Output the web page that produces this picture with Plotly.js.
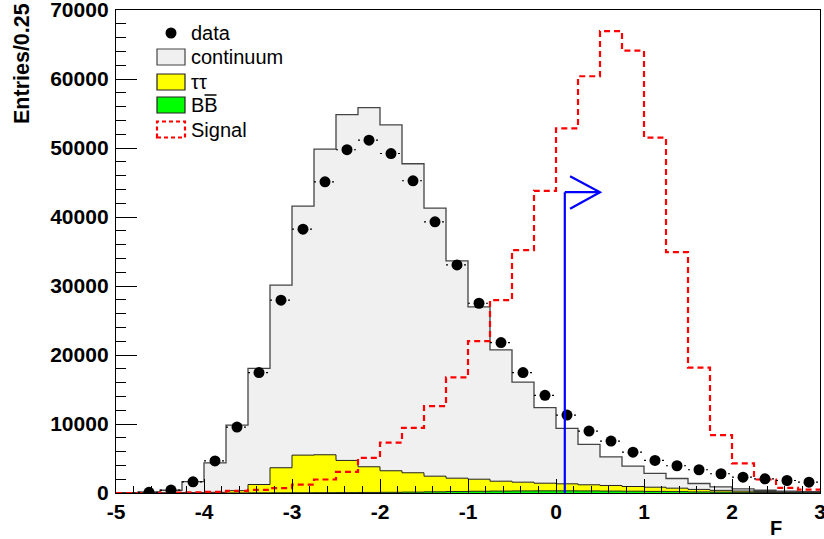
<!DOCTYPE html>
<html>
<head>
<meta charset="utf-8">
<script src="https://cdn.plot.ly/plotly-3.0.1.min.js"></script>
<style>
html,body{margin:0;padding:0;background:#fff;}
#chart{width:824px;height:539px;}
</style>
</head>
<body>
<div id="chart"></div>
<script>
// ---- data (bins of width 0.25 from -5 to 3) ----
const binLow = [-5,-4.75,-4.5,-4.25,-4,-3.75,-3.5,-3.25,-3,-2.75,-2.5,-2.25,-2,-1.75,-1.5,-1.25,
                -1,-0.75,-0.5,-0.25,0,0.25,0.5,0.75,1,1.25,1.5,1.75,2,2.25,2.5,2.75];
const binWidth = 0.25;

const continuum = [0,150,380,1600,4280,9490,16840,26460,36090,44290,50110,52050,50120,44790,38850,31490,
                   24970,19020,14510,10950,8030,5850,4160,2950,1990,1400,860,520,330,200,120,100];
const tautau    = [0,0,20,50,100,330,1210,3630,5450,5490,4660,3720,3120,2800,2270,1940,
                   1750,1430,1270,1110,1020,890,810,680,610,500,360,250,180,120,80,60];
const bbbar     = [0,0,0,0,0,10,20,30,40,50,60,80,100,130,170,210,
                   250,280,300,310,310,300,280,260,230,200,160,130,100,80,60,40];
const signal    = [0,0,50,80,150,300,450,700,1200,1960,3050,5100,7300,9450,12600,16750,
                   22000,27950,35200,43800,52850,60400,66950,64100,51500,34900,18170,8400,4300,1960,750,500];
const data      = [null,100,420,1620,4650,9550,17450,27940,38240,45100,49750,51140,49200,45250,39300,33060,
                   27500,21800,17450,14150,11290,8970,7520,5920,4720,3950,3370,2790,2300,2060,1810,1570];

const cutValue = 0.1;      // F cut position
const arrowLevel = 43600;  // height of arrow
const arrowTip = 0.5;

const yTicks = [0,10000,20000,30000,40000,50000,60000,70000];
const xTicks = [-5,-4,-3,-2,-1,0,1,2,3];

// ---- helpers ----
const edges = binLow.concat([binLow[binLow.length-1] + binWidth]);
const centers = binLow.map(v => v + binWidth/2);
function stepY(vals){ return vals.concat([vals[vals.length-1]]); }
const bbTop = bbbar.slice();
const ttTop = tautau.map((v,i) => v + bbbar[i]);
const totTop = continuum.map((v,i) => v + tautau[i] + bbbar[i]);

// x "error" segments for data (dotted)
const exX = [], exY = [];
binLow.forEach((lo,i) => { if (data[i] !== null) { exX.push(lo, lo+binWidth, null); exY.push(data[i], data[i], null); } });

const traces = [
  {x: edges, y: stepY(totTop), type:'scatter', mode:'lines', line:{shape:'hv', color:'#444', width:1.3},
   fill:'tozeroy', fillcolor:'#f0f0f0', hoverinfo:'skip', showlegend:false},
  {x: edges, y: stepY(ttTop), type:'scatter', mode:'lines', line:{shape:'hv', color:'#222', width:1},
   fill:'tozeroy', fillcolor:'#ffff00', hoverinfo:'skip', showlegend:false},
  {x: edges, y: stepY(bbTop), type:'scatter', mode:'lines', line:{shape:'hv', color:'#222', width:1},
   fill:'tozeroy', fillcolor:'#00ff00', hoverinfo:'skip', showlegend:false},
  {x: edges, y: stepY(signal), type:'scatter', mode:'lines', line:{shape:'hv', color:'#ff0000', width:2.2, dash:'6px,4px'},
   hoverinfo:'skip', showlegend:false},
  {x: exX, y: exY, type:'scatter', mode:'lines', line:{color:'#000', width:1.2, dash:'2px,4px'},
   connectgaps:false, hoverinfo:'skip', showlegend:false},
  {x: centers, y: data, type:'scatter', mode:'markers', marker:{color:'#000', size:11, symbol:'circle'},
   showlegend:false}
];

const W = 824, H = 539, M = {l:116, r:4, t:10, b:46};
const plotW = W - M.l - M.r, plotH = H - M.t - M.b;
const PX = px => (px - M.l)/plotW;
const PY = py => (H - M.b - py)/plotH;

const legFont = {family:'Liberation Sans, Arial, sans-serif', size:20, color:'#000'};
const legend = [
  {label:'data', y:33},
  {label:'continuum', y:57, fill:'#f0f0f0', line:'#444'},
  {label:'\u03C4\u03C4', y:82, fill:'#ffff00', line:'#222'},
  {label:'BB', y:105, fill:'#00ff00', line:'#222', bar:true},
  {label:'Signal', y:129.5, fill:'rgba(0,0,0,0)', line:'#ff0000', dash:true}
];

const shapes = [];
const annotations = [];
legend.forEach(it => {
  if (it.fill) {
    shapes.push({type:'rect', xref:'paper', yref:'paper', x0:PX(157), x1:PX(185), y0:PY(it.y+8), y1:PY(it.y-8),
      fillcolor:it.fill, line:{color:it.line, width: it.dash?2.2:1.2, dash: it.dash?'4px,3px':'solid'}, layer:'above'});
  } else {
    shapes.push({type:'circle', xref:'paper', yref:'paper', x0:PX(165.5), x1:PX(176.5), y0:PY(it.y+5.5), y1:PY(it.y-5.5),
      fillcolor:'#000', line:{color:'#000', width:0}, layer:'above'});
  }
  if (it.bar) {
    // overline of the anti-B
    shapes.push({type:'line', xref:'paper', yref:'paper', x0:PX(204.5), x1:PX(216.5), y0:PY(it.y-10), y1:PY(it.y-10),
      line:{color:'#000', width:1.5}, layer:'above'});
  }
  annotations.push({xref:'paper', yref:'paper', x:PX(188.5), y:PY(it.y), xanchor:'left', yanchor:'middle',
    text:it.label, showarrow:false, font:legFont});
});

// cut arrow (blue)
shapes.push({type:'line', xref:'x', yref:'y', x0:cutValue, x1:cutValue, y0:0, y1:arrowLevel, line:{color:'#0000ff', width:2.2}, layer:'above'});
shapes.push({type:'line', xref:'x', yref:'y', x0:cutValue, x1:arrowTip, y0:arrowLevel, y1:arrowLevel, line:{color:'#0000ff', width:2.2}, layer:'above'});
shapes.push({type:'path', xref:'x', yref:'y',
  path:`M ${arrowTip-0.34},${arrowLevel+2300} L ${arrowTip},${arrowLevel} L ${arrowTip-0.34},${arrowLevel-2400}`,
  line:{color:'#0000ff', width:2.2}, layer:'above'});

const boldFont = {family:'Liberation Sans, Arial, sans-serif', size:21.5, weight:'bold', color:'#000'};
// axis titles
annotations.push({xref:'paper', yref:'paper', x:PX(22), y:PY(64), xanchor:'center', yanchor:'middle', textangle:-90,
  text:'Entries/0.25', showarrow:false, font:boldFont});
annotations.push({xref:'paper', yref:'paper', x:PX(776), y:PY(528), xanchor:'center', yanchor:'middle',
  text:'F', showarrow:false, font:{family:'Liberation Sans, Arial, sans-serif', size:20, weight:'bold', color:'#000'}});

const tickFont = {family:'Liberation Sans, Arial, sans-serif', size:21, weight:'bold', color:'#000'};

const layout = {
  width: W, height: H,
  margin: M,
  paper_bgcolor:'#fff', plot_bgcolor:'#fff',
  showlegend:false,
  font:{family:'Liberation Sans, Arial, sans-serif', color:'#000'},
  xaxis:{range:[-5,3], tickmode:'array', tickvals:xTicks, ticktext:xTicks.map(String),
    ticks:'inside', ticklen:14, tickwidth:1, tickcolor:'#000',
    minor:{dtick:0.2, tick0:-5, ticks:'inside', ticklen:7, tickcolor:'#000', showgrid:false},
    showline:true, linecolor:'#000', linewidth:1.2, mirror:true,
    showgrid:false, zeroline:false, tickfont:tickFont, ticklabeloverflow:'allow'},
  yaxis:{range:[0,70000], tickmode:'array', tickvals:yTicks, ticktext:yTicks.map(String),
    ticks:'inside', ticklen:21, tickwidth:1, tickcolor:'#000',
    minor:{dtick:2000, tick0:0, ticks:'inside', ticklen:10, tickcolor:'#000', showgrid:false},
    showline:true, linecolor:'#000', linewidth:1.2, mirror:true,
    showgrid:false, zeroline:false, tickfont:tickFont, ticklabelstandoff:2, ticklabeloverflow:'allow'},
  shapes: shapes,
  annotations: annotations
};

Plotly.newPlot('chart', traces, layout, {displayModeBar:false, staticPlot:true});
</script>
</body>
</html>
